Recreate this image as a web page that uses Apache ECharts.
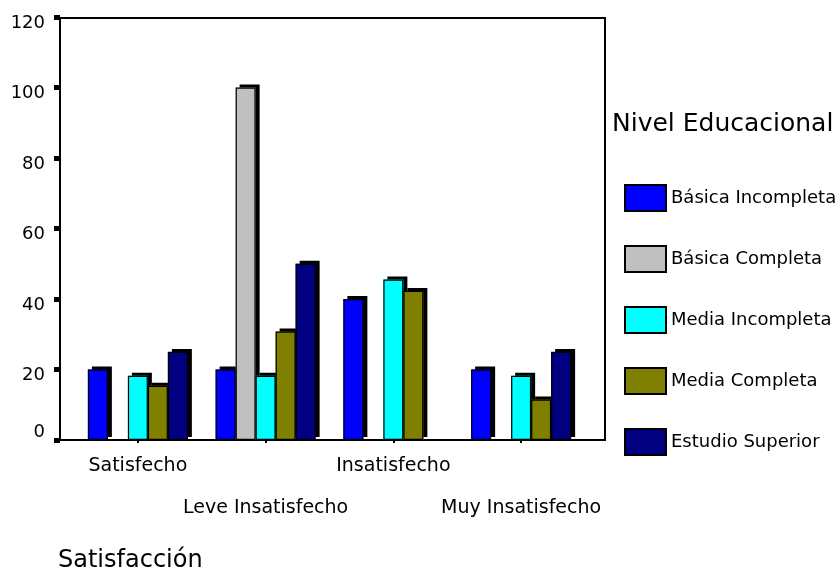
<!DOCTYPE html>
<html>
<head>
<meta charset="utf-8">
<script src="https://cdn.jsdelivr.net/npm/echarts@6/dist/echarts.min.js"></script>
<style>
  html, body { margin: 0; padding: 0; background: #fff; }
  #chart { width: 838px; height: 575px; }
</style>
</head>
<body>
<div id="chart"></div>
<script>
// Satisfaction level (x categories)
const categories = ['Satisfecho', 'Leve Insatisfecho', 'Insatisfecho', 'Muy Insatisfecho'];

// Percent of each education level falling in each satisfaction level
const basicaIncompleta = [20, 20, 40, 20];
const basicaCompleta   = [null, 100, null, null];
const mediaIncompleta  = [18.2, 18.2, 45.5, 18.2];
const mediaCompleta    = [15.4, 30.8, 42.3, 11.5];
const estudioSuperior  = [25, 50, null, 25];

const seriesNames = ['Básica Incompleta', 'Básica Completa', 'Media Incompleta', 'Media Completa', 'Estudio Superior'];
const seriesData = [basicaIncompleta, basicaCompleta, mediaIncompleta, mediaCompleta, estudioSuperior];
const seriesColors = ['#0000ff', '#c0c0c0', '#00ffff', '#808000', '#000080'];

const yTicks = { min: 0, max: 120, interval: 20 };

const FONT = 'DejaVu Sans';

const chart = echarts.init(document.getElementById('chart'), null, { renderer: 'canvas' });

// Filled bars with a hard black drop shadow (the pseudo-3D look)
const fillSeries = seriesNames.map((name, i) => ({
  name: name,
  type: 'bar',
  xAxisIndex: 0,
  yAxisIndex: 0,
  data: seriesData[i],
  barWidth: 20,
  barGap: '0%',
  itemStyle: {
    color: seriesColors[i],
    borderWidth: 0,
    shadowColor: '#000',
    shadowBlur: 0,
    shadowOffsetX: 4,
    shadowOffsetY: -3
  },
  emphasis: { disabled: true },
  animation: false
}));

// Thin outlines on a twin category axis, drawn on top so the shadow never bleeds into them
const outlineSeries = seriesNames.map((name, i) => ({
  name: 'outline ' + i,
  type: 'bar',
  xAxisIndex: 2,
  yAxisIndex: 0,
  data: seriesData[i],
  barWidth: 20,
  barGap: '0%',
  silent: true,
  itemStyle: {
    color: 'rgba(0,0,0,0)',
    borderColor: '#000',
    borderWidth: 1.2
  },
  emphasis: { disabled: true },
  animation: false
}));

chart.setOption({
  backgroundColor: '#fff',
  animation: false,
  grid: [
    // plotting area for the bars
    { left: 74, top: 17, width: 511, height: 423, containLabel: false },
    // surrounding frame
    { left: 60, top: 18, width: 545, height: 422, show: true, borderColor: '#000', borderWidth: 2, backgroundColor: 'transparent' }
  ],
  xAxis: [
    {
      type: 'category',
      gridIndex: 0,
      data: categories,
      axisLine: { show: false },
      axisTick: { show: true, alignWithLabel: true, length: 3, lineStyle: { color: '#000', width: 2 } },
      axisLabel: {
        interval: 0,
        margin: 16,
        color: '#000',
        fontFamily: FONT,
        fontSize: 19,
        lineHeight: 21,
        formatter: (v, idx) => (idx % 2 === 1 ? '\n\n' : '') + v
      },
      splitLine: { show: false }
    },
    { type: 'value', gridIndex: 1, show: false, min: 0, max: 1 },
    {
      type: 'category',
      gridIndex: 0,
      data: categories,
      show: false
    }
  ],
  yAxis: [
    {
      type: 'value',
      gridIndex: 0,
      min: yTicks.min,
      max: yTicks.max,
      interval: yTicks.interval,
      offset: 14,
      axisLine: { show: false },
      axisTick: { show: true, length: 6, lineStyle: { color: '#000', width: 5 } },
      splitLine: { show: false },
      axisLabel: {
        margin: 15,
        color: '#000',
        fontFamily: FONT,
        fontSize: 18,
        formatter: v => (v === 0 ? '{z|0}' : '{n|' + v + '}'),
        rich: {
          n: { fontFamily: FONT, fontSize: 18, color: '#000', padding: [12, 0, 0, 0] },
          z: { fontFamily: FONT, fontSize: 18, color: '#000', padding: [0, 0, 16, 0] }
        }
      }
    },
    { type: 'value', gridIndex: 1, show: false, min: 0, max: 1 }
  ],
  legend: {
    orient: 'vertical',
    left: 619,
    top: 179,
    itemWidth: 41,
    itemHeight: 26,
    itemGap: 33,
    icon: 'rect',
    selectedMode: false,
    data: seriesNames,
    itemStyle: {
      borderColor: '#000',
      borderWidth: 2,
      shadowColor: 'rgba(0,0,0,0)',
      shadowBlur: 0,
      shadowOffsetX: 0,
      shadowOffsetY: 0
    },
    textStyle: { color: '#000', fontFamily: FONT, fontSize: 18 }
  },
  graphic: [
    {
      type: 'text',
      left: 612,
      top: 112,
      style: { text: 'Nivel Educacional', fill: '#000', font: '25px "DejaVu Sans"' }
    },
    {
      type: 'text',
      left: 58,
      top: 549,
      style: { text: 'Satisfacción', fill: '#000', font: '24px "DejaVu Sans"' }
    }
  ],
  series: fillSeries.concat(outlineSeries)
});
</script>
</body>
</html>
